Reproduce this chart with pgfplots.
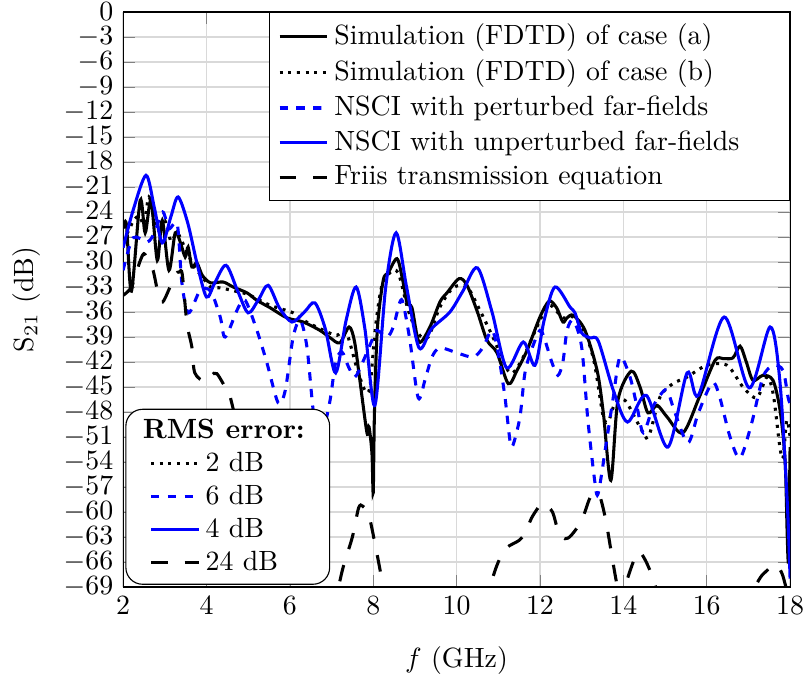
\documentclass[border=0pt]{standalone}
\usepackage{pgfplots}
\pgfplotsset{compat=1.18}
\begin{document}
\begin{tikzpicture}
\begin{axis}[
  name=main,
  scale only axis, width=239.5pt, height=206.5pt,
  xmin=2, xmax=18, ymin=-69, ymax=0,
  xtick={2,4,...,18}, ytick={-69,-66,...,0},
  grid=major, grid style={gray!30, line width=0.5pt},
  xlabel={$f$ (GHz)}, ylabel={S$_{21}$ (dB)}, ylabel shift=1.6pt, xlabel shift=4.5pt,
  legend style={at={(1,1)}, anchor=north east, legend cell align=left, draw=black, fill=white},
  every axis plot/.append style={line width=1.1pt},
]
\addplot[black, smooth] coordinates {
(2.0,-26) (2.08,-25.5) (2.2,-33.5) (2.41,-22.6) (2.53,-26.5) (2.67,-22.6) (2.82,-29.8) (2.94,-25) (3.1,-31) (3.25,-26.5) (3.37,-27.6) (3.49,-29.4) (3.56,-28.2) (3.65,-30.6) (3.77,-30.1) (3.9,-31.6)
(4.1,-32.5) (4.4,-32.4) (4.64,-33) (4.97,-33.7) (5.21,-34.6) (5.53,-35.5) (5.93,-36.7) (6.32,-37.2) (6.72,-38.2) (6.97,-39.1) (7.2,-39.7) (7.42,-37.8) (7.55,-39.5) (7.68,-44.2) (7.85,-50.5) (7.9,-49.8) (7.97,-53) (8.0,-57.7) (8.03,-48) (8.1,-38) (8.24,-32.2) (8.36,-31.3) (8.57,-29.6) (8.7,-32) (8.81,-34.9) (8.93,-35.5) (9.1,-39.6) (9.36,-37.8) (9.6,-34.8) (9.77,-33.7) (10.06,-32.0) (10.25,-32.8) (10.5,-36) (10.73,-39.4) (10.97,-40.9) (11.24,-44.6) (11.45,-43) (11.69,-40.6) (12.0,-36.6) (12.22,-34.7) (12.4,-35.5) (12.55,-37.2) (12.65,-36.7) (12.8,-36.4) (13.08,-38.2) (13.37,-43.0) (13.52,-48.1) (13.7,-56.2) (13.87,-46.6) (14.19,-43.1) (14.4,-45) (14.59,-48.1) (14.81,-47.2) (15.05,-48.6) (15.43,-50.5) (15.84,-46.0) (16.2,-41.8) (16.4,-41.6) (16.63,-41.5) (16.8,-40.1) (16.95,-42) (17.11,-44.2) (17.35,-43.6) (17.59,-44.2) (17.76,-47.8) (17.88,-53.8) (17.93,-62.5) (17.96,-65.4) (18.0,-52.2)
};
\addlegendentry{Simulation (FDTD) of case (a)}
\addplot[black, dotted, smooth] coordinates {
(2.0,-25.5) (2.1,-26.5) (2.25,-25) (2.4,-24.5) (2.5,-25.5) (2.62,-22.2) (2.75,-25) (2.9,-26.5) (3.0,-25) (3.15,-27.5) (3.3,-26.5) (3.5,-28.5) (3.7,-30.5) (3.9,-31.8) (4.1,-33) (4.33,-33.1) (4.6,-33.4) (5.0,-33.9) (5.53,-35.2) (6.08,-36.1) (6.4,-37.2) (6.9,-38.4) (7.13,-38.8) (7.35,-38.4) (7.6,-42.6) (7.8,-45.4) (7.92,-45) (8.05,-38) (8.2,-33) (8.4,-31.3) (8.6,-31.3) (8.84,-35.8) (9.08,-38.6) (9.32,-39) (9.6,-35.4) (9.92,-33.1) (10.25,-33) (10.56,-35.8) (10.87,-39) (11.28,-43.3) (11.6,-41.4) (12.0,-37) (12.24,-35.2) (12.55,-36.7) (12.8,-36.6) (13.08,-38.5) (13.3,-42) (13.52,-48.6) (13.65,-49) (13.8,-47) (14.04,-46.6) (14.4,-49.8) (14.6,-51) (14.88,-46.2) (15.19,-44.6) (15.53,-43.8) (16.0,-42.4) (16.49,-42.4) (16.87,-45) (17.2,-46.3) (17.45,-43.8) (17.6,-46) (17.75,-52) (17.83,-53.5) (17.92,-49) (18.0,-51)
};
\addlegendentry{Simulation (FDTD) of case (b)}
\addplot[blue, dashed, smooth] coordinates {
(2.0,-31) (2.24,-27.1) (2.58,-27.6) (2.75,-26.5) (2.95,-24) (3.1,-26) (3.3,-25.5) (3.41,-32.5) (3.57,-36.1) (3.85,-33.4) (4.1,-33.5) (4.33,-36.6) (4.45,-39) (4.76,-35.5) (4.93,-34.6) (5.21,-38.2) (5.45,-42.1) (5.72,-46.9) (5.89,-45.4) (6.08,-39) (6.25,-37) (6.41,-40.2) (6.56,-47.8) (6.7,-52) (6.95,-47) (7.1,-42) (7.25,-40.8) (7.4,-42.5) (7.56,-43.8) (7.75,-42) (7.97,-39.4) (8.09,-38.2) (8.33,-39) (8.48,-37.8) (8.64,-34.8) (8.72,-35) (8.88,-39.4) (9.08,-46.3) (9.25,-44) (9.41,-41.4) (9.6,-40.3) (10.01,-40.9) (10.4,-41.4) (10.64,-40.2) (10.85,-38.2) (11.0,-41) (11.16,-46.2) (11.28,-51.4) (11.35,-52) (11.52,-48.6) (11.64,-43.3) (11.8,-40.5) (12.0,-38.2) (12.12,-39.4) (12.29,-42.1) (12.43,-43.6) (12.55,-42) (12.65,-38.2) (12.8,-37) (13.0,-40.2) (13.15,-49) (13.32,-56.5) (13.4,-57.7) (13.6,-51.4) (13.76,-46.2) (13.92,-41.4) (14.16,-43.8) (14.33,-47.4) (14.48,-50.5) (14.7,-47.5) (14.88,-46) (15.05,-45.4) (15.24,-48.1) (15.55,-51.7) (15.8,-48.1) (16.13,-44.5) (16.3,-46) (16.56,-51) (16.8,-53.5) (17.08,-49.3) (17.35,-43.8) (17.6,-42.4) (17.83,-43) (17.95,-46.2) (18.0,-47)
};
\addlegendentry{NSCI with perturbed far-fields}
\addplot[blue, smooth] coordinates {
(2.0,-28.3) (2.24,-23.8) (2.55,-19.6) (2.75,-23.5) (2.94,-27.7) (3.15,-24.5) (3.32,-22.2) (3.55,-25.3) (3.77,-30.1) (4.0,-34.2) (4.2,-32.5) (4.47,-30.4) (4.75,-33.5) (5.0,-36.1) (5.25,-34.5) (5.48,-32.8) (5.75,-35.5) (6.05,-37.2) (6.35,-36) (6.6,-34.9) (6.85,-38) (7.1,-43.3) (7.35,-37) (7.59,-33.0) (7.8,-38) (8.04,-47.2) (8.3,-33) (8.55,-26.5) (8.8,-33) (9.1,-40.3) (9.4,-38) (9.84,-36.0) (10.15,-33.5) (10.5,-30.7) (10.85,-36) (11.2,-42.7) (11.6,-39.6) (11.88,-42.4) (12.1,-37) (12.36,-33.0) (12.72,-35.4) (12.84,-36.1) (13.0,-38.5) (13.2,-39.1) (13.4,-39.5) (13.76,-45.4) (14.1,-49.2) (14.55,-46.0) (15.07,-52.2) (15.53,-43.3) (15.8,-46.0) (16.42,-36.6) (17.02,-45.1) (17.52,-37.8) (17.75,-44) (17.93,-58.6) (18.0,-68)
};
\addlegendentry{NSCI with unperturbed far-fields\hspace*{13pt}\mbox{}}
\addplot[black, dash pattern=on 6pt off 6pt, smooth] coordinates {
(2.0,-34) (2.2,-33) (2.4,-30) (2.5,-29) (2.6,-29.8) (2.72,-31) (2.85,-34) (2.95,-34.8) (3.1,-33.3) (3.25,-31.5) (3.35,-31.2) (3.42,-31.5) (3.53,-37.3) (3.65,-40.2) (3.72,-43.3) (3.97,-44.4) (4.12,-43.6) (4.25,-43.4) (4.49,-45.4) (4.57,-46.2) (5.0,-55) (5.5,-64) (6.0,-72) (6.5,-76) (7.0,-72) (7.28,-66.6) (7.5,-63) (7.65,-59.5) (7.75,-59.3) (7.9,-60.5) (8.05,-64) (8.2,-68) (8.3,-72) (8.8,-80) (9.5,-82) (10.3,-78) (10.8,-69) (11.0,-66) (11.2,-64.3) (11.5,-63.4) (11.65,-62.5) (11.8,-60.7) (12.0,-59.2) (12.1,-59) (12.3,-60) (12.45,-62.5) (12.6,-63.2) (12.75,-62.8) (13.0,-61) (13.2,-58.3) (13.35,-57.7) (13.45,-58.3) (13.58,-61) (13.7,-64.5) (13.82,-68) (13.95,-71) (14.1,-68) (14.3,-65.2) (14.4,-64.8) (14.55,-66) (14.7,-67.8) (14.85,-70) (15.5,-78) (16.5,-76) (17.2,-68.6) (17.45,-67) (17.65,-66.3) (17.8,-67.3) (17.9,-69) (18.0,-71)
};
\addlegendentry{Friis transmission equation}
\end{axis}
\begin{axis}[
  overlay,
  scale only axis, width=239.5pt, height=206.5pt, hide axis,
  xmin=0, xmax=1, ymin=0, ymax=1,
  legend style={at={(0,0)}, anchor=south west, xshift=0.8pt, yshift=0.8pt, rounded corners=6pt, legend cell align=left, draw=black, fill=white, inner xsep=8.5pt, inner ysep=1.5pt, row sep=-0.6pt},
]
\addlegendimage{legend image code/.code={}}
\addlegendentry{\hspace{-21pt}\makebox[55pt][c]{\textbf{RMS error:}}}
\addlegendimage{black, dotted, line width=1.1pt}
\addlegendentry{2 dB}
\addlegendimage{blue, dashed, line width=1.1pt}
\addlegendentry{6 dB}
\addlegendimage{blue, line width=1.1pt}
\addlegendentry{4 dB}
\addlegendimage{black, dash pattern=on 6pt off 6pt, line width=1.1pt}
\addlegendentry{24 dB}
\end{axis}
\pgfresetboundingbox
\path[use as bounding box] ([xshift=-44.2pt,yshift=-31.2pt]main.south west) rectangle ([xshift=5pt,yshift=4.3pt]main.north east);
\end{tikzpicture}
\end{document}
